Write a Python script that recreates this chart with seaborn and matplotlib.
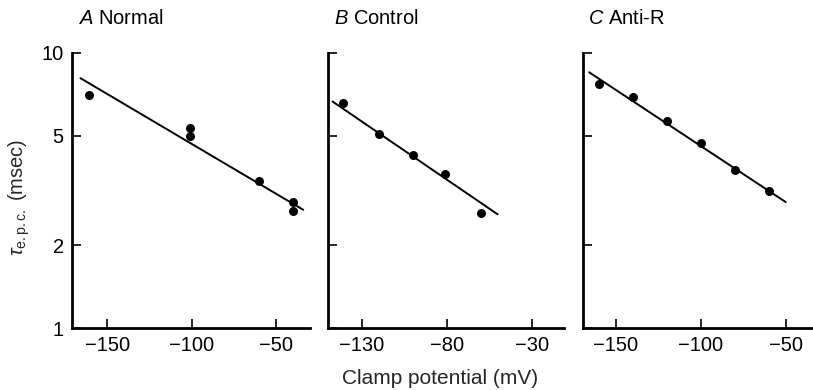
import matplotlib
matplotlib.use("Agg")
import matplotlib.pyplot as plt
import seaborn as sns
import pandas as pd
import numpy as np

sns.set_theme(style="ticks")
plt.rcParams['font.family'] = ['Liberation Sans', 'DejaVu Sans']
plt.rcParams['mathtext.fontset'] = 'custom'
plt.rcParams['mathtext.rm'] = 'Liberation Sans'
plt.rcParams['mathtext.it'] = 'Liberation Sans:italic'

# Panel letters and names
panel_letters = ["A", "B", "C"]
panel_names = ["Normal", "Control", "Anti-R"]

# Data points (clamp potential mV, tau msec)
a_x = [-161, -101, -101, -60, -40, -40]
a_y = [7.05, 5.35, 4.98, 3.42, 2.88, 2.67]
b_x = [-141, -120, -100, -81, -60]
b_y = [6.56, 5.07, 4.24, 3.62, 2.62]
c_x = [-160, -140, -120, -100, -80, -60]
c_y = [7.74, 6.92, 5.67, 4.71, 3.74, 3.14]

# Fitted lines (endpoints)
a_fit_x = [-166, -34]
a_fit_y = [8.1, 2.69]
b_fit_x = [-147, -50]
b_fit_y = [6.66, 2.59]
c_fit_x = [-165.7, -50]
c_fit_y = [8.51, 2.87]

# Axis settings
xlims = [(-171, -30), (-150, -11), (-169.6, -31)]
xticks = [[-150, -100, -50], [-130, -80, -30], [-150, -100, -50]]
yticks = [1, 2, 5, 10]
ytick_labels = ["1", "2", "5", "10"]

points = [(a_x, a_y), (b_x, b_y), (c_x, c_y)]
fits = [(a_fit_x, a_fit_y), (b_fit_x, b_fit_y), (c_fit_x, c_fit_y)]

W, H = 813, 390
fig = plt.figure(figsize=(W / 100, H / 100), dpi=100)

ax_px = [(72, 310), (327.5, 564), (582.5, 818)]
top_px, bot_px = 53, 328
FS = 14.5

for i in range(3):
    l, r = ax_px[i]
    ax = fig.add_axes([l / W, (H - bot_px) / H, (r - l) / W, (bot_px - top_px) / H])
    ax.set_facecolor("none")
    fx, fy = fits[i]
    sns.lineplot(x=fx, y=fy, ax=ax, color="black", linewidth=1.4)
    px, py = points[i]
    sns.scatterplot(x=px, y=py, ax=ax, color="black", s=42, edgecolor="black", linewidth=0, zorder=3)
    ax.set_yscale("log")
    ax.set_ylim(1, 10)
    ax.set_xlim(*xlims[i])
    ax.set_xticks(xticks[i])
    ax.set_xticklabels(["\u2212" + str(abs(v)) for v in xticks[i]])
    ax.set_yticks(yticks)
    ax.yaxis.set_minor_locator(matplotlib.ticker.NullLocator())
    if i == 0:
        ax.set_yticklabels(ytick_labels)
    else:
        ax.set_yticklabels([])
    ax.tick_params(axis="both", direction="in", length=6.5, width=1.2, colors="black",
                   labelsize=FS, pad=6)
    for s in ["top", "right"]:
        ax.spines[s].set_visible(False)
    for s in ["left", "bottom"]:
        ax.spines[s].set_linewidth(2)
        ax.spines[s].set_color("black")
    ax.set_xlabel("")
    ax.set_ylabel("")
    fig.text((l + 6) / W, 1 - 18 / H, r"$\mathit{" + panel_letters[i] + r"}$ " + panel_names[i],
             fontsize=FS, ha="left", va="center", color="black")

fig.text(440 / W, 1 - 378 / H, "Clamp potential (mV)", fontsize=15, ha="center", va="center")
fig.text(19 / W, 1 - 197 / H, r"$\tau_{\rm e.p.c.}$ (msec)", fontsize=FS, rotation=90,
         ha="center", va="center")

fig.savefig("out.png", dpi=100)
